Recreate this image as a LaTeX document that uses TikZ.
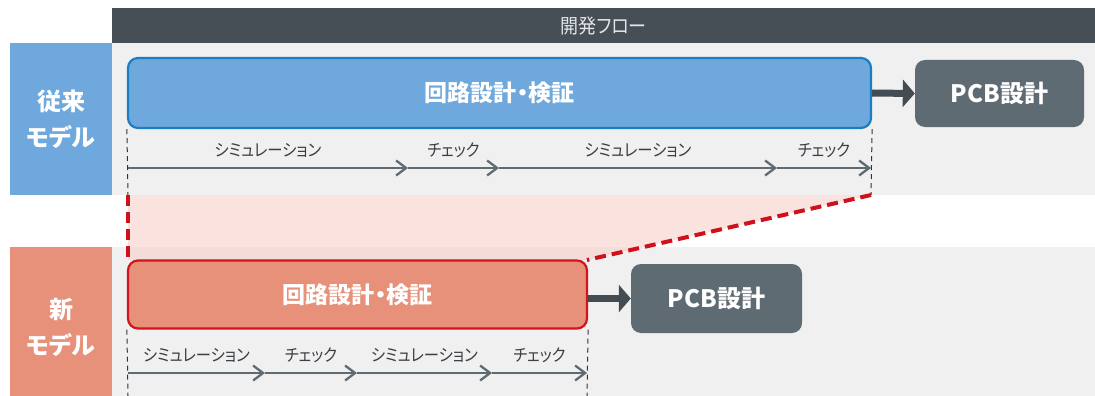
\documentclass[tikz,border=0pt]{standalone}
\usepackage{fontspec}
\setmainfont{Noto Sans CJK JP}[RawFeature=+palt]
\newfontfamily\lblfont{Noto Sans CJK JP}[RawFeature=+palt, FakeStretch=0.9]
\usetikzlibrary{arrows.meta}
\definecolor{hdr}{HTML}{464E56}
\definecolor{bgray}{HTML}{F0F0F0}
\definecolor{blueL}{HTML}{6FA8DC}
\definecolor{blueB}{HTML}{1B7DC2}
\definecolor{orgL}{HTML}{E8917A}
\definecolor{redB}{HTML}{D3141E}
\definecolor{pcbc}{HTML}{5F6B73}
\definecolor{thinc}{HTML}{5F6B73}
\definecolor{pinkF}{HTML}{F8D0CA}
\definecolor{redD}{HTML}{D0101A}
\definecolor{darkarr}{HTML}{434B53}
\definecolor{lbltext}{HTML}{3A3F44}
\tikzset{
  labelbox/.style={rectangle, inner sep=0pt, text=white, align=center,
    font=\fontsize{24}{36}\selectfont\bfseries},
  procbox/.style={rectangle, rounded corners=10pt, line width=2.2pt, inner sep=0pt,
    text=white, font=\fontsize{23}{28}\selectfont\bfseries},
  pcbbox/.style={rectangle, rounded corners=10pt, fill=pcbc, inner sep=0pt,
    text=white, font=\fontsize{24}{28}\selectfont\bfseries},
  bigarrow/.style={draw=darkarr, line width=7pt, -{Triangle[length=12pt,width=27pt]}},
  thinarrow/.style={draw=thinc, line width=2pt, -{Straight Barb[length=10pt,width=15pt,line width=2.3pt]}},
  steplbl/.style={midway, yshift=18pt, text=lbltext, font=\lblfont\fontsize{17}{20}\selectfont},
  guide/.style={draw=black!80, line width=1pt, dash pattern=on 5pt off 4pt},
  reddash/.style={draw=redD, line width=4pt, dash pattern=on 11pt off 6pt}
}
\begin{document}
\begin{tikzpicture}[x=1pt,y=-1pt]
\useasboundingbox (0,0) rectangle (1095,396);
\fill[white] (0,0) rectangle (1095,396);
% backgrounds
\fill[bgray] (112,43) rectangle (1095,195);
\fill[bgray] (112,247) rectangle (1095,396);
% pink trapezoid
\fill[pinkF, opacity=0.6] (128,195) -- (871,195) -- (587,260) -- (128,260) -- cycle;
% header
\node[rectangle, fill=hdr, minimum width=983pt, minimum height=35pt, inner sep=0pt,
  text=white!90!black, font=\lblfont\fontsize{20}{22}\selectfont] (header) at (603.5,25.5) {開発フロー};
% left labels
\node[labelbox, fill=blueL, minimum width=102pt, minimum height=152pt] (lab1) at (61,119) {従来\\モデル};
\node[labelbox, fill=orgL, minimum width=102pt, minimum height=149pt] (lab2) at (61,321.5) {};
\node[labelbox] (lab2t) at (61,327) {新\\モデル};
% process boxes
\node[procbox, fill=blueL, draw=blueB, minimum width=743pt, minimum height=70pt] (blue) at (499.5,93) {回路設計・検証};
\node[pcbbox, minimum width=169pt, minimum height=67pt] (pcb1) at (999.5,93.5) {PCB設計};
\node[procbox, fill=orgL, draw=redB, minimum width=459pt, minimum height=68pt] (pink) at (357.5,294.5) {回路設計・検証};
\node[pcbbox, minimum width=171pt, minimum height=69pt] (pcb2) at (716.5,298.5) {PCB設計};
% big arrows
\draw[bigarrow] (blue.east) -- (pcb1.west);
\draw[bigarrow] (pcb2.west -| pink.east) -- (pcb2.west);
% guide coordinates
\coordinate (g1) at (128,195);
\coordinate (g2) at (871,195);
\coordinate (g3) at (128,396);
\coordinate (g4) at (587,396);
\coordinate (r1) at (128,261);
\coordinate (r2) at (587,260);
\draw[guide] (blue.south west) -- (g1);
\draw[guide] (blue.south east) -- (g2);
\draw[guide] (pink.south west) -- (g3);
\draw[guide] (pink.south east) -- (g4);
\draw[reddash] (g1) -- (r1);
\draw[reddash] (g2) -- (r2);
% top timeline
\coordinate (t0) at (128,168);
\coordinate (t1) at (408,168);
\coordinate (t2) at (499,168);
\coordinate (t3) at (777,168);
\coordinate (t4) at (871,168);
\draw[thinarrow] (t0) -- node[steplbl]{シミュレーション} (t1);
\draw[thinarrow] (t1) -- node[steplbl]{チェック} (t2);
\draw[thinarrow] (t2) -- node[steplbl]{シミュレーション} (t3);
\draw[thinarrow] (t3) -- node[steplbl]{チェック} (t4);
% bottom timeline
\coordinate (b0) at (128,373);
\coordinate (b1) at (265,373);
\coordinate (b2) at (357,373);
\coordinate (b3) at (492,373);
\coordinate (b4) at (587,373);
\draw[thinarrow] (b0) -- node[steplbl]{シミュレーション} (b1);
\draw[thinarrow] (b1) -- node[steplbl]{チェック} (b2);
\draw[thinarrow] (b2) -- node[steplbl]{シミュレーション} (b3);
\draw[thinarrow] (b3) -- node[steplbl]{チェック} (b4);
\end{tikzpicture}
\end{document}
